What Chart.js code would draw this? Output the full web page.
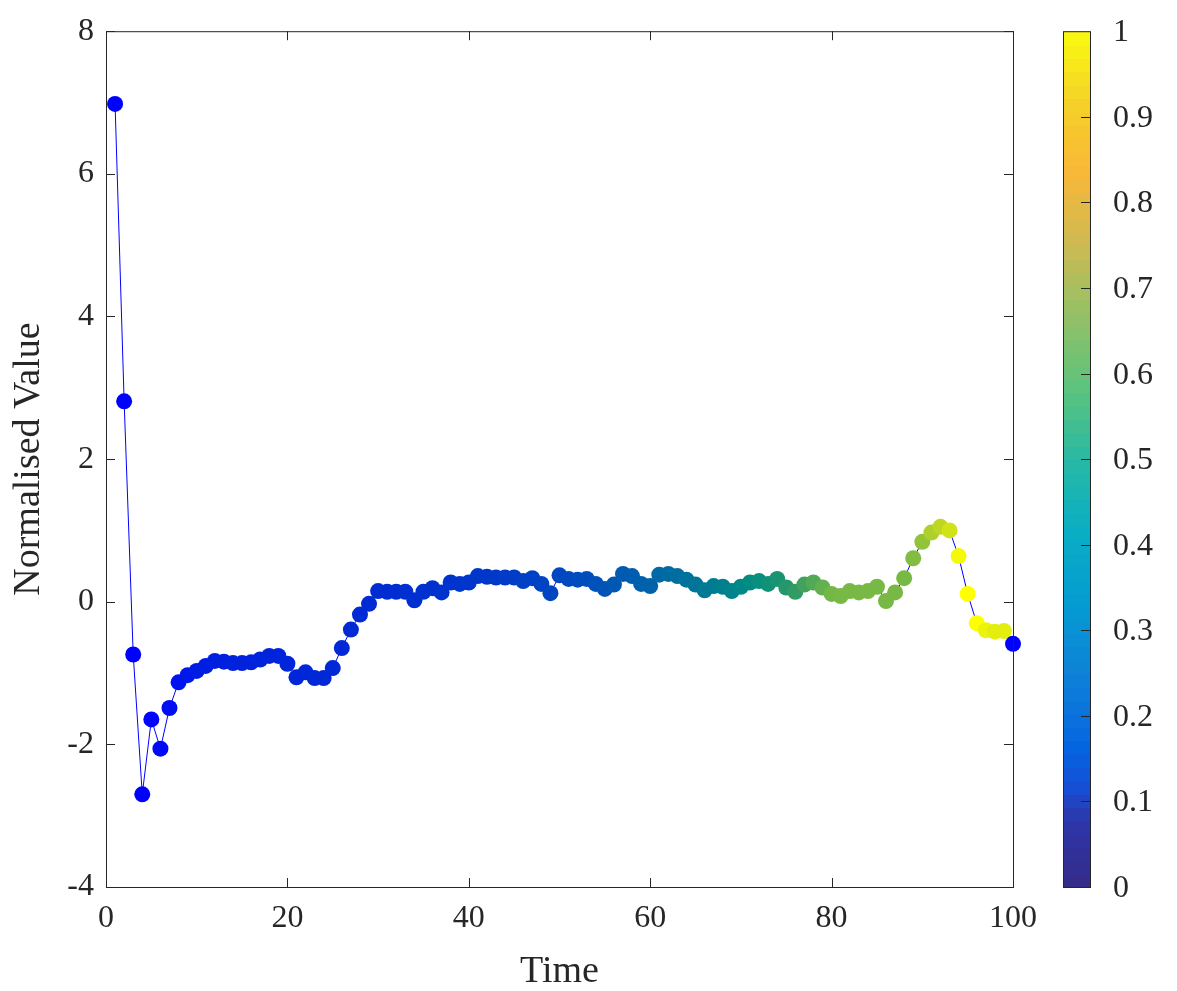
<!DOCTYPE html>
<html>
<head>
<meta charset="utf-8">
<script src="https://cdn.jsdelivr.net/npm/chart.js@4.4.1/dist/chart.umd.min.js"></script>
<style>
  html, body { margin: 0; padding: 0; background: #fff; }
  #wrap { width: 1177px; height: 991px; position: relative; }
</style>
</head>
<body>
<div id="wrap"><canvas id="chart" width="1177" height="991"></canvas></div>
<script>
'use strict';

// ── Data ──────────────────────────────────────────────────────────────────────
const times = Array.from({ length: 100 }, (_, i) => i + 1);

const values = [
   6.98,  2.81, -0.74, -2.70, -1.65, -2.06, -1.49, -1.13, -1.03, -0.97,
  -0.90, -0.83, -0.84, -0.86, -0.86, -0.85, -0.81, -0.76, -0.76, -0.87,
  -1.06, -0.99, -1.07, -1.07, -0.93, -0.65, -0.39, -0.18, -0.03,  0.15,
   0.14,  0.14,  0.14,  0.02,  0.14,  0.19,  0.13,  0.27,  0.25,  0.27,
   0.36,  0.35,  0.34,  0.34,  0.34,  0.29,  0.33,  0.25,  0.12,  0.37,
   0.32,  0.31,  0.32,  0.25,  0.18,  0.24,  0.39,  0.36,  0.25,  0.22,
   0.38,  0.39,  0.36,  0.31,  0.24,  0.16,  0.22,  0.21,  0.15,  0.21,
   0.27,  0.29,  0.25,  0.32,  0.20,  0.14,  0.24,  0.27,  0.20,  0.11,
   0.08,  0.15,  0.13,  0.15,  0.21,  0.01,  0.13,  0.33,  0.61,  0.84,
   0.97,  1.05,  1.00,  0.64,  0.11, -0.30, -0.40, -0.42, -0.41, -0.59
];

// colour value of each marker (0 = blue, 1 = yellow)
const shades = [
  0.00, 0.00, 0.00, 0.00, 0.02, 0.04, 0.06, 0.08, 0.10, 0.12,
  0.13, 0.14, 0.14, 0.15, 0.15, 0.15, 0.16, 0.16, 0.16, 0.17,
  0.17, 0.17, 0.18, 0.18, 0.18, 0.18, 0.19, 0.19, 0.19, 0.20,
  0.20, 0.20, 0.21, 0.21, 0.22, 0.22, 0.23, 0.23, 0.24, 0.24,
  0.25, 0.25, 0.26, 0.27, 0.28, 0.29, 0.30, 0.31, 0.32, 0.33,
  0.34, 0.35, 0.36, 0.37, 0.38, 0.39, 0.40, 0.41, 0.42, 0.43,
  0.45, 0.46, 0.47, 0.49, 0.50, 0.52, 0.53, 0.55, 0.56, 0.58,
  0.60, 0.62, 0.64, 0.66, 0.69, 0.72, 0.75, 0.78, 0.81, 0.84,
  0.85, 0.85, 0.85, 0.85, 0.85, 0.85, 0.85, 0.85, 0.86, 0.88,
  0.91, 0.93, 0.95, 0.99, 1.00, 1.00, 0.98, 0.97, 0.97, 0.00
];

const xTicks = [0, 20, 40, 60, 80, 100];
const yTicks = [-4, -2, 0, 2, 4, 6, 8];
const cbTicks = [0, 0.1, 0.2, 0.3, 0.4, 0.5, 0.6, 0.7, 0.8, 0.9, 1];

// ── Colour maps ───────────────────────────────────────────────────────────────
const markerStops = [
  [0.00, [0, 0, 255]],
  [0.20, [0, 45, 210]],
  [0.35, [0, 75, 190]],
  [0.45, [0, 105, 165]],
  [0.60, [0, 140, 130]],
  [0.72, [50, 155, 100]],
  [0.85, [120, 185, 70]],
  [0.93, [190, 215, 35]],
  [1.00, [255, 255, 0]],
];

const parulaStops = [
  [0.00, [53, 42, 135]],
  [0.08, [45, 55, 170]],
  [0.12, [20, 80, 215]],
  [0.16, [5, 100, 225]],
  [0.25, [15, 130, 215]],
  [0.33, [5, 155, 210]],
  [0.42, [10, 175, 195]],
  [0.50, [40, 185, 165]],
  [0.58, [90, 195, 125]],
  [0.68, [155, 192, 100]],
  [0.76, [210, 185, 80]],
  [0.84, [250, 185, 55]],
  [0.92, [245, 210, 40]],
  [1.00, [249, 251, 14]],
];

function lookup(stops, t) {
  t = Math.max(0, Math.min(1, t));
  for (let i = 1; i < stops.length; i++) {
    if (t <= stops[i][0]) {
      let [t0, c0] = stops[i - 1];
      let [t1, c1] = stops[i];
      let f = (t - t0) / (t1 - t0);
      let c = c0.map((v, k) => Math.round(v + (c1[k] - v) * f));
      return `rgb(${c[0]},${c[1]},${c[2]})`;
    }
  }
  let c = stops[stops.length - 1][1];
  return `rgb(${c[0]},${c[1]},${c[2]})`;
}

// ── Layout ────────────────────────────────────────────────────────────────────
const FONT = '"Liberation Serif", "DejaVu Serif", serif';
const AXIS = '#262626';
const PLOT = { left: 106, right: 1013, top: 29, bottom: 887 };
const CBAR = { left: 1063, right: 1090 };

// ── Frame, inward ticks and colour bar ────────────────────────────────────────
const framePlugin = {
  id: 'frame',
  afterDraw(chart) {
    let ctx = chart.ctx;
    let { left, right, top, bottom } = chart.chartArea;
    let xs = chart.scales.x, ys = chart.scales.y;
    ctx.save();
    ctx.strokeStyle = AXIS;
    ctx.lineWidth = 1;
    ctx.strokeRect(left + 0.5, top + 0.5, right - left, bottom - top);
    ctx.beginPath();
    xTicks.forEach(v => {
      let px = Math.round(xs.getPixelForValue(v)) + 0.5;
      ctx.moveTo(px, bottom); ctx.lineTo(px, bottom - 9);
      ctx.moveTo(px, top);    ctx.lineTo(px, top + 9);
    });
    yTicks.forEach(v => {
      let py = Math.round(ys.getPixelForValue(v)) + 0.5;
      ctx.moveTo(left, py);  ctx.lineTo(left + 9, py);
      ctx.moveTo(right, py); ctx.lineTo(right - 9, py);
    });
    ctx.stroke();

    // colour bar, 64 bands, shares the plot's vertical extent
    let cbH = bottom - top;
    let bands = 64;
    for (let i = 0; i < bands; i++) {
      let y0 = bottom - cbH * (i + 1) / bands;
      ctx.fillStyle = lookup(parulaStops, (i + 0.5) / bands);
      ctx.fillRect(CBAR.left, Math.floor(y0), CBAR.right - CBAR.left, Math.ceil(cbH / bands) + 1);
    }
    ctx.strokeStyle = AXIS;
    ctx.strokeRect(CBAR.left + 0.5, top + 0.5, CBAR.right - CBAR.left, cbH);
    ctx.fillStyle = AXIS;
    ctx.font = `32px ${FONT}`;
    ctx.textAlign = 'left';
    ctx.textBaseline = 'middle';
    ctx.beginPath();
    cbTicks.forEach(v => {
      let py = Math.round(bottom - cbH * v) + 0.5;
      if (v > 0 && v < 1) { ctx.moveTo(CBAR.right, py); ctx.lineTo(CBAR.right - 9, py); }
      ctx.fillText(String(v), CBAR.right + 23, py + 1);
    });
    ctx.stroke();
    ctx.restore();
  }
};

// ── Chart ─────────────────────────────────────────────────────────────────────
new Chart(document.getElementById('chart'), {
  type: 'scatter',
  data: {
    datasets: [{
      data: times.map((t, i) => ({ x: t, y: values[i] })),
      showLine: true,
      clip: false,
      borderColor: '#0000ff',
      borderWidth: 1,
      pointRadius: 8,
      pointHoverRadius: 8,
      pointBorderWidth: 0,
      pointBackgroundColor: shades.map(s => lookup(markerStops, s)),
    }],
  },
  options: {
    responsive: false,
    animation: false,
    events: [],
    layout: { padding: { left: 0, top: PLOT.top, right: 1177 - PLOT.right, bottom: 0 } },
    plugins: { legend: { display: false }, tooltip: { enabled: false } },
    scales: {
      x: {
        type: 'linear', min: 0, max: 100,
        afterFit: s => { s.height = 991 - PLOT.bottom; },
        afterBuildTicks: s => { s.ticks = xTicks.map(v => ({ value: v })); },
        grid: { display: false, drawTicks: false },
        border: { display: false },
        ticks: { color: AXIS, font: { family: FONT, size: 32 }, padding: 12, maxRotation: 0 },
        title: { display: true, text: 'Time', color: AXIS, font: { family: FONT, size: 38, lineHeight: 1.0 }, padding: { top: 0, bottom: 0 } },
      },
      y: {
        type: 'linear', min: -4, max: 8,
        afterFit: s => { s.width = PLOT.left; },
        afterBuildTicks: s => { s.ticks = yTicks.map(v => ({ value: v })); },
        grid: { display: false, drawTicks: false },
        border: { display: false },
        ticks: { color: AXIS, font: { family: FONT, size: 32 }, padding: 12 },
        title: { display: true, text: 'Normalised Value', color: AXIS, font: { family: FONT, size: 38 }, padding: { top: 6, bottom: 0 } },
      },
    },
  },
  plugins: [framePlugin],
});
</script>
</body>
</html>
